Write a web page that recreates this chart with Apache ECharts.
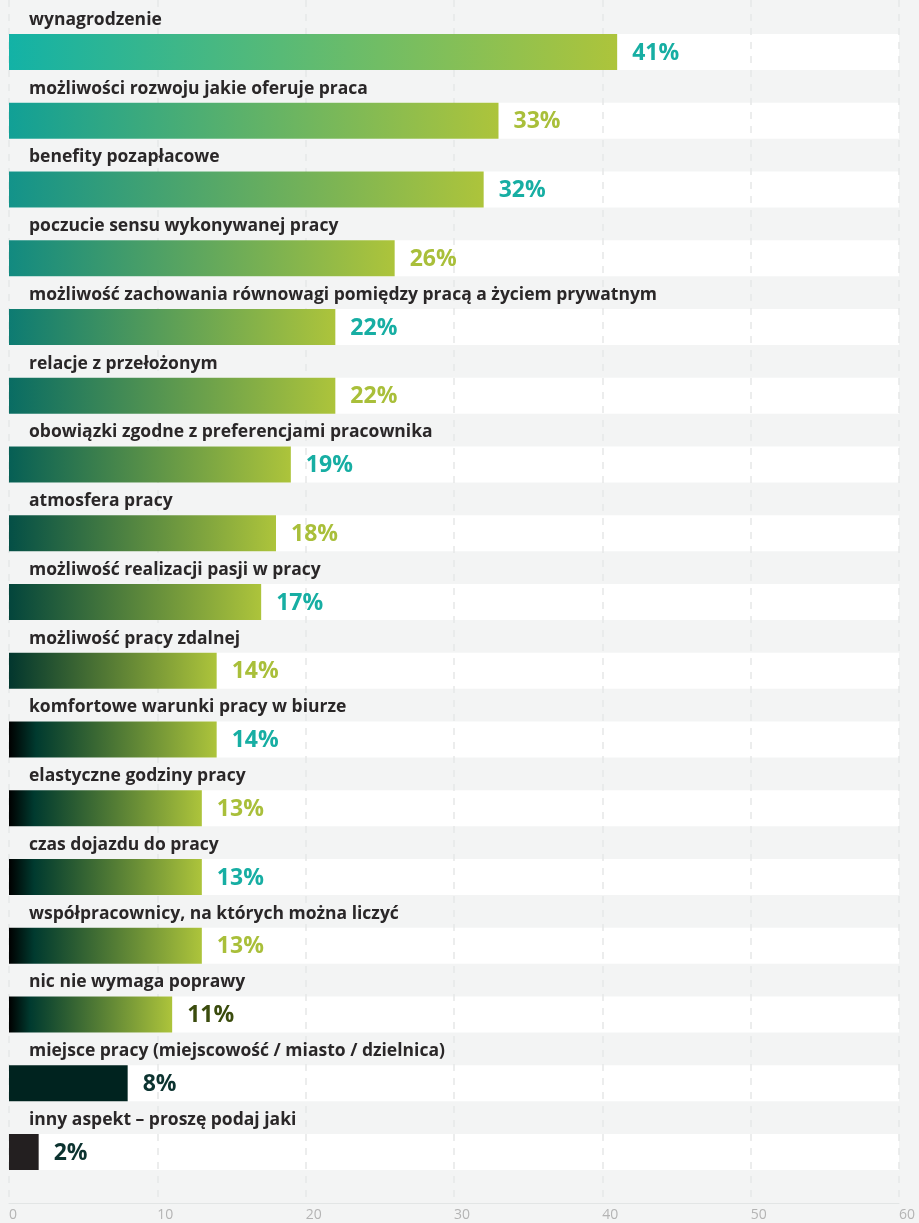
<!DOCTYPE html>
<html>
<head>
<meta charset="utf-8">
<script src="https://cdn.jsdelivr.net/npm/echarts@6/dist/echarts.min.js"></script>
<style>
html,body{margin:0;padding:0;background:#f3f4f4;}
#chart{width:919px;height:1223px;}
</style>
</head>
<body>
<div id="chart"></div>
<script>
// ---- data ----
const categories = [
  "wynagrodzenie",
  "możliwości rozwoju jakie oferuje praca",
  "benefity pozapłacowe",
  "poczucie sensu wykonywanej pracy",
  "możliwość zachowania równowagi pomiędzy pracą a życiem prywatnym",
  "relacje z przełożonym",
  "obowiązki zgodne z preferencjami pracownika",
  "atmosfera pracy",
  "możliwość realizacji pasji w pracy",
  "możliwość pracy zdalnej",
  "komfortowe warunki pracy w biurze",
  "elastyczne godziny pracy",
  "czas dojazdu do pracy",
  "współpracownicy, na których można liczyć",
  "nic nie wymaga poprawy",
  "miejsce pracy (miejscowość / miasto / dzielnica)",
  "inny aspekt – proszę podaj jaki"
];
const values = [41, 33, 32, 26, 22, 22, 19, 18, 17, 14, 14, 13, 13, 13, 11, 8, 2];
const axisMin = 0;
const axisMax = 60;
const axisStep = 10;

// ---- styles ----
const LIME = '#adc43b';
const leftColors = ['#13b2a6','#11a096','#13938a','#128a80','#0d7b72','#096c63','#065f55','#044f46','#03453c','#02362e'];
const labelColors = ['#17aea3','#a9bf3a','#17aea3','#a9bf3a','#17aea3','#a9bf3a','#17aea3','#a9bf3a','#17aea3','#a9bf3a','#17aea3','#a9bf3a','#17aea3','#a9bf3a','#3b4c0e','#0c3330','#0c3330'];

function barColor(i){
  if (i < leftColors.length) {
    return {type:'linear',x:0,y:0,x2:1,y2:0,colorStops:[
      {offset:0,color:leftColors[i]},{offset:1,color:LIME}]};
  }
  if (i <= 14) {
    return {type:'linear',x:0,y:0,x2:1,y2:0,colorStops:[
      {offset:0,color:'#000000'},{offset:0.13,color:'#003a2f'},{offset:1,color:LIME}]};
  }
  if (i === 15) return '#00231f';
  return '#231f20';
}

const bgData = categories.map(function(c){ return axisMax; });
const fgData = values.map(function(v,i){
  return {value:v, itemStyle:{color:barColor(i)}, label:{color:labelColors[i]}};
});

const FONT = '"Open Sans", "Noto Sans", sans-serif';

const chart = echarts.init(document.getElementById('chart'), null, {renderer:'canvas'});
chart.setOption({
  backgroundColor:'#f3f4f4',
  animation:false,
  grid:[
    {left:9, right:20, top:17.625, bottom:36.625},
    {left:9, right:20, top:0, bottom:20}
  ],
  xAxis:[
    {gridIndex:0, type:'value', min:axisMin, max:axisMax, interval:axisStep, show:false},
    {gridIndex:1, type:'value', min:axisMin, max:axisMax, interval:axisStep, z:1,
     axisLine:{show:true, lineStyle:{color:'#e2e5e5', width:1}},
     axisTick:{show:false},
     axisLabel:{color:'#b4b4b4', fontSize:14, fontFamily:FONT, align:'left', margin:5},
     splitLine:{show:true, lineStyle:{color:'#e6e7e7', width:1.5, type:[7,7]}}}
  ],
  yAxis:[
    {gridIndex:0, type:'category', data:categories, inverse:true, show:false},
    {gridIndex:1, type:'value', min:0, max:1, show:false}
  ],
  series:[
    {
      type:'bar', xAxisIndex:0, yAxisIndex:0, z:0,
      data:bgData, barWidth:36, barGap:'-100%',
      itemStyle:{color:'#ffffff'},
      silent:true
    },
    {
      type:'bar', xAxisIndex:0, yAxisIndex:0, z:2,
      data:fgData, barWidth:36, barGap:'-100%',
      label:{show:true, position:'right', distance:15, offset:[0,1],
        formatter:'{c}%', fontSize:23, fontWeight:'bold', fontFamily:FONT}
    },
    {
      type:'bar', xAxisIndex:0, yAxisIndex:0, z:3,
      data:bgData, barWidth:36, barGap:'-100%',
      itemStyle:{color:'rgba(0,0,0,0)'},
      silent:true,
      label:{show:true, position:[20,-14], align:'left', verticalAlign:'middle',
        formatter:function(p){ return categories[p.dataIndex]; },
        color:'#2a2728', fontSize:17.5, fontWeight:'bold', fontFamily:FONT}
    }
  ]
});
</script>
</body>
</html>
